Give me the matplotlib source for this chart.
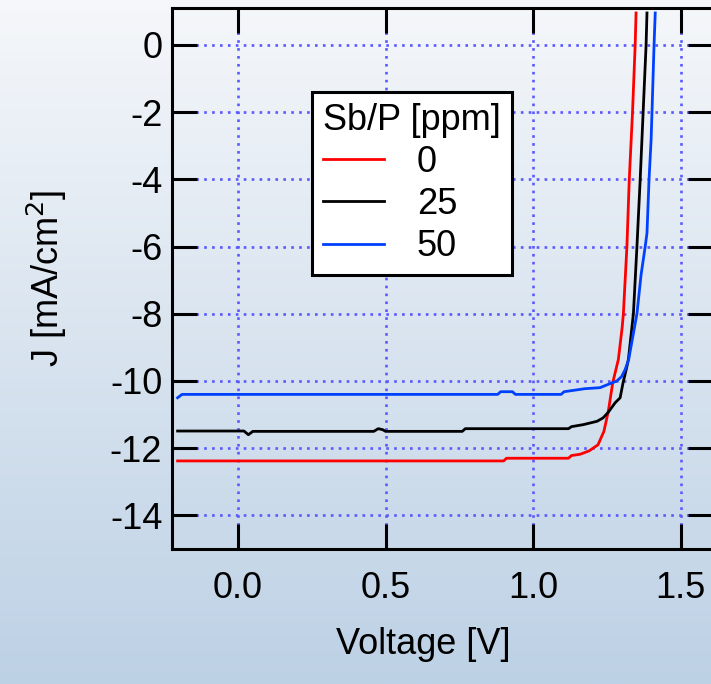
import numpy as np
import matplotlib
matplotlib.use("Agg")
import matplotlib.pyplot as plt
from matplotlib.colors import LinearSegmentedColormap

plt.rcParams['font.family'] = ['Liberation Sans', 'DejaVu Sans']

# J-V curves
v_0 = [-0.205, 0.90, 0.91, 1.12, 1.13, 1.16, 1.19, 1.22, 1.24, 1.255, 1.27,
       1.289, 1.302, 1.306, 1.318, 1.326, 1.337, 1.346, 1.349]
j_0 = [-12.38, -12.38, -12.30, -12.30, -12.22, -12.18, -12.08, -11.9, -11.5,
       -10.9, -10.05, -9.36, -8.4, -8.0, -6.0, -4.0, -2.0, 0.0, 0.95]

v_25 = [-0.205, 0.02, 0.035, 0.05, 0.46, 0.475, 0.49, 0.50, 0.76, 0.77, 1.12,
        1.13, 1.17, 1.217, 1.237, 1.254, 1.278, 1.295, 1.305, 1.318, 1.323,
        1.34, 1.352, 1.363, 1.373, 1.383, 1.386]
j_25 = [-11.49, -11.49, -11.6, -11.5, -11.5, -11.42, -11.45, -11.5, -11.5,
        -11.42, -11.42, -11.36, -11.3, -11.2, -11.1, -10.94, -10.65, -10.5,
        -10.05, -9.57, -9.36, -8.0, -6.0, -4.0, -2.0, 0.0, 0.95]

v_50 = [-0.205, -0.19, 0.88, 0.89, 0.93, 0.94, 1.095, 1.105, 1.176, 1.227,
        1.255, 1.284, 1.30, 1.312, 1.324, 1.352, 1.366, 1.38, 1.386, 1.393,
        1.40, 1.403, 1.41, 1.414]
j_50 = [-10.5, -10.4, -10.4, -10.32, -10.32, -10.4, -10.4, -10.32, -10.23,
        -10.2, -10.1, -10.0, -9.87, -9.66, -9.36, -8.0, -6.84, -6.0, -5.6,
        -4.0, -2.82, -2.0, 0.0, 0.95]

labels = ['0', '25', '50']
colors = ['#ff0000', '#000000', '#0040ff']
x_ticks = [0.0, 0.5, 1.0, 1.5]
y_ticks = [0, -2, -4, -6, -8, -10, -12, -14]

fig = plt.figure(figsize=(7.11, 6.84), dpi=100)

# background gradient
bg = fig.add_axes([0, 0, 1, 1], zorder=-10)
cmap = LinearSegmentedColormap.from_list('bg', ['#bdd1e5', '#f5f7fa'])
grad = np.linspace(0, 1, 256).reshape(-1, 1)
bg.imshow(grad, aspect='auto', cmap=cmap, origin='lower', extent=[0, 1, 0, 1])
bg.axis('off')

ax = fig.add_axes([0.2419, 0.1974, 0.761, 0.791])
ax.set_facecolor('none')

for v, j, lab, c in zip([v_0, v_25, v_50], [j_0, j_25, j_50], labels, colors):
    ax.plot(v, j, color=c, lw=2.0, label=lab, zorder=3)

ax.set_xlim(-0.224, 1.61)
ax.set_ylim(-15, 1.1)
ax.set_xticks(x_ticks)
ax.set_xticklabels([f'{t:.1f}' for t in x_ticks])
ax.set_yticks(y_ticks)
ax.set_yticklabels([str(t) for t in y_ticks])

ax.grid(True, color='#5a5aff', linestyle=(0, (1, 2.0)), linewidth=1.9)
for s in ax.spines.values():
    s.set_linewidth(2.2)
ax.tick_params(direction='in', length=18, width=2.2, labelsize=26,
               top=True, right=True, pad=7)
ax.tick_params(axis='x', pad=16)

ax.set_xlabel('Voltage [V]', fontsize=26)
ax.xaxis.set_label_coords(0.464, -0.145)
ax.set_ylabel('J [mA/cm$^2$]', fontsize=26)
ax.yaxis.set_label_coords(-0.19, 0.5)

leg = ax.legend(title='Sb/P [ppm]', fontsize=26, title_fontsize=26,
                loc='upper left', bbox_to_anchor=(0.259, 0.845),
                borderaxespad=0, fancybox=False, framealpha=1,
                edgecolor='black', handlelength=1.7, handletextpad=0.9,
                labelspacing=0.2, alignment='left', borderpad=0.3)
leg.get_frame().set_linewidth(2.2)
leg.set_zorder(5)

fig.savefig('out.png', dpi=100)
